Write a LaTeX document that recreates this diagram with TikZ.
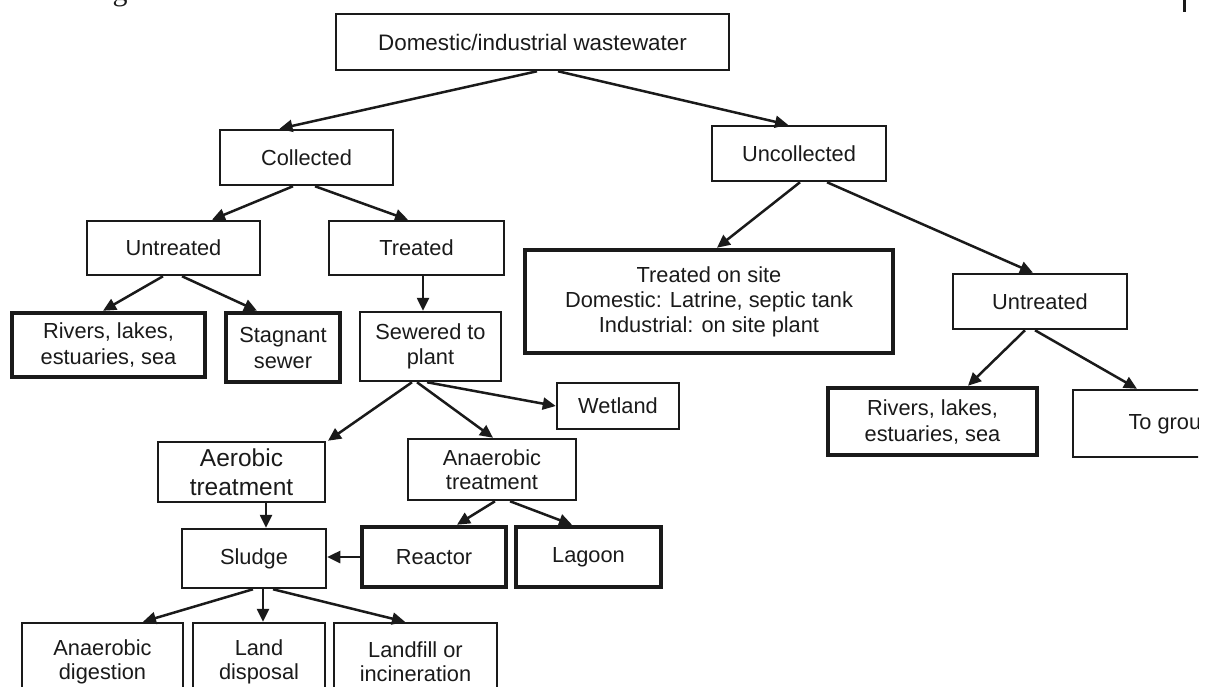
\documentclass[tikz,border=0pt]{standalone}
\usepackage{fontspec}
\setmainfont{Liberation Sans}
\newfontfamily\headserif{Liberation Serif}
\usetikzlibrary{arrows.meta}

\definecolor{ink}{HTML}{1A1A1A}

% box from corner (x1,y1) to (x2,y2) in pixel units
\newcommand\flowbox[7]{%
  \node[#6, minimum width={(#4)-(#2)}, minimum height={(#5)-(#3)}]
    (#1) at ({((#2)+(#4))/2},{((#3)+(#5))/2}) {#7};}

\tikzset{
  thinbox/.style={draw=ink, line width=2.5pt, inner sep=0pt, align=center,
    text=ink, font=\fontsize{21.8}{26}\selectfont},
  thickbox/.style={thinbox, line width=4.5pt},
  flow/.style={draw=ink, line width=2.5pt,
    -{Triangle[length=13pt,width=12pt]}},
}

\begin{document}
\begin{tikzpicture}[x=1pt,y=-1pt]
\useasboundingbox (0,0) rectangle (1211,686);
\clip (0,0) rectangle (1211,686);

% fragments at the top edge
\node[anchor=base, inner sep=0pt, font=\headserif\fontsize{30}{30}\selectfont, text=ink] (hdg) at (120,0) {g};
\coordinate (barTop) at (1184.5,0);
\coordinate (barEnd) at (1184.5,12);
\draw[ink, line width=2.5pt] (barTop) -- (barEnd);

% boxes
\flowbox{top}{336}{14}{729}{70}{thinbox, font=\fontsize{22.4}{26}\selectfont}{Domestic/industrial wastewater}
\flowbox{coll}{220}{130}{393}{185}{thinbox}{Collected}
\flowbox{uncoll}{712}{126}{886}{181}{thinbox}{Uncollected}
\flowbox{untrL}{87}{221}{260}{275}{thinbox}{Untreated}
\flowbox{treated}{329}{221}{504}{275}{thinbox}{Treated}
\flowbox{riversL}{12}{313}{205}{377}{thickbox}{Rivers, lakes,\\estuaries, sea}
\flowbox{stag}{226}{313}{340}{382}{thickbox}{Stagnant\\sewer}
\flowbox{sewer}{360}{312}{501}{381}{thinbox, font=\fontsize{21.8}{25}\selectfont}{Sewered to\\plant}
\flowbox{tos}{525}{250}{893}{353}{thickbox, font=\fontsize{21.8}{25}\selectfont}{Treated on site\\Domestic: Latrine, septic tank\\Industrial: on site plant}
\flowbox{untrR}{953}{274}{1127}{329}{thinbox}{Untreated}
\flowbox{riversR}{828}{388}{1037}{455}{thickbox}{Rivers, lakes,\\estuaries, sea}
\begin{scope}
  \clip (1050,370) rectangle (1198,470);
  \flowbox{ground}{1073}{390}{1281}{457}{thinbox}{To ground}
\end{scope}
\flowbox{wet}{557}{383}{679}{429}{thinbox}{Wetland}
\flowbox{aer}{158}{442}{325}{502}{thinbox, font=\fontsize{24.5}{29}\selectfont}{Aerobic\\treatment}
\flowbox{anaer}{408}{439}{576}{500}{thinbox, font=\fontsize{21.8}{24}\selectfont}{Anaerobic\\treatment}
\flowbox{sludge}{182}{529}{326}{588}{thinbox}{Sludge}
\flowbox{reactor}{362}{527}{506}{587}{thickbox}{Reactor}
\flowbox{lagoon}{516}{527}{661}{587}{thickbox}{Lagoon}
\flowbox{ad}{22}{623}{183}{700}{thinbox, font=\fontsize{21.8}{24}\selectfont}{Anaerobic\\digestion}
\flowbox{ld}{193}{623}{325}{700}{thinbox, font=\fontsize{21.8}{24}\selectfont}{Land\\disposal}
\flowbox{li}{334}{623}{497}{700}{thinbox, font=\fontsize{21.8}{24}\selectfont}{Landfill or\\incineration}

% connectors
\draw[flow] ([xshift=4.5pt]top.south) -- ([xshift=-27pt]coll.north);
\draw[flow] ([xshift=25.5pt]top.south) -- ([xshift=-11pt]uncoll.north);
\draw[flow] ([xshift=-13.5pt]coll.south) -- ([xshift=38.5pt]untrL.north);
\draw[flow] ([xshift=8.5pt]coll.south) -- ([xshift=-8.5pt]treated.north);
\draw[flow] ([xshift=-10.5pt]untrL.south) -- ([xshift=-5.5pt]riversL.north);
\draw[flow] ([xshift=8.5pt]untrL.south) -- ([xshift=-26pt]stag.north);
\draw[flow] ([xshift=6.5pt]treated.south) -- ([xshift=-7.5pt]sewer.north);
\draw[flow] ([xshift=-18.5pt]sewer.south) -- ([xshift=86.5pt]aer.north);
\draw[flow] ([xshift=-13.5pt]sewer.south) -- ([xshift=1pt]anaer.north);
\draw[flow] ([xshift=-3.5pt]sewer.south) -- (wet.west);
\draw[flow] ([xshift=24.5pt]aer.south) -- ([xshift=12pt]sludge.north);
\draw[flow] ([xshift=3pt]anaer.south) -- ([xshift=23pt]reactor.north);
\draw[flow] ([xshift=18pt]anaer.south) -- ([xshift=-16.5pt]lagoon.north);
\draw[flow] (reactor.west) -- (reactor.west -| sludge.east);
\draw[flow] ([xshift=-1pt]sludge.south) -- ([xshift=40.5pt]ad.north);
\draw[flow] ([xshift=9pt]sludge.south) -- ([xshift=4pt]ld.north);
\draw[flow] ([xshift=19pt]sludge.south) -- ([xshift=-10.5pt]li.north);
\draw[flow] ([xshift=1pt]uncoll.south) -- ([xshift=8pt]tos.north);
\draw[flow] ([xshift=28pt]uncoll.south) -- ([xshift=-7pt]untrR.north);
\draw[flow] ([xshift=-15pt]untrR.south) -- ([xshift=35.5pt]riversR.north);
\draw[flow] ([xshift=-5pt]untrR.south) -- ([xshift=-40pt]ground.north);
\end{tikzpicture}
\end{document}
